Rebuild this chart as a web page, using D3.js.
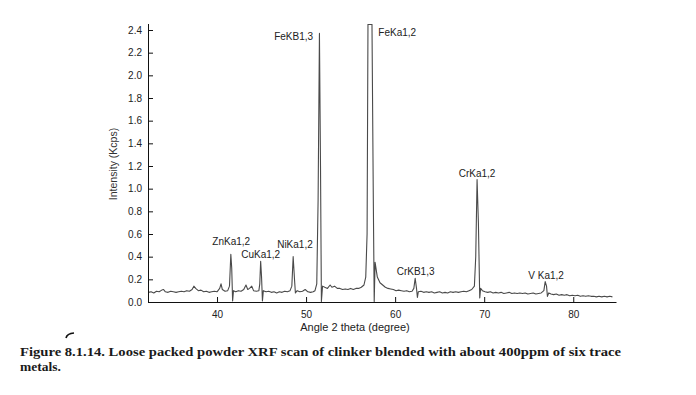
<!DOCTYPE html>
<html>
<head>
<meta charset="utf-8">
<script src="https://cdn.jsdelivr.net/npm/d3@7"></script>
<style>
body { margin: 0; background: #fff; }
</style>
</head>
<body>
<div id="viz"></div>
<script>
var width = 696;
var height = 395;

// spectrum: [angle 2 theta, intensity Kcps]
var spectrum = [
	[32.3,0.085],[32.6,0.09],[32.9,0.08],[33.2,0.095],[33.5,0.09],[33.8,0.105],[34.0,0.11],[34.2,0.09],
	[34.5,0.085],[34.8,0.095],[35.1,0.09],[35.4,0.085],[35.7,0.09],[36.0,0.095],[36.3,0.09],[36.6,0.10],
	[36.9,0.095],[37.2,0.11],[37.4,0.14],[37.6,0.12],[37.9,0.10],[38.2,0.105],[38.5,0.09],[38.8,0.095],
	[39.1,0.085],[39.4,0.09],[39.7,0.095],[40.0,0.09],[40.3,0.12],[40.45,0.16],[40.6,0.11],[40.9,0.095],
	[41.2,0.10],[41.4,0.14],[41.55,0.42],[41.65,0.30],[41.75,0.01],[41.85,0.10],[42.1,0.09],[42.4,0.10],
	[42.7,0.095],[43.0,0.11],[43.25,0.15],[43.45,0.11],[43.65,0.12],[43.9,0.14],[44.1,0.10],[44.4,0.095],
	[44.7,0.10],[44.8,0.16],[44.9,0.36],[45.0,0.22],[45.1,0.01],[45.2,0.10],[45.5,0.09],[45.8,0.095],
	[46.1,0.085],[46.4,0.09],[46.7,0.08],[47.0,0.09],[47.3,0.085],[47.6,0.095],[47.9,0.09],[48.2,0.10],
	[48.4,0.14],[48.55,0.40],[48.7,0.20],[48.8,0.08],[49.0,0.10],[49.3,0.09],[49.6,0.095],[49.9,0.11],
	[50.2,0.09],[50.5,0.085],[50.8,0.09],[51.0,0.10],[51.2,0.16],[51.35,0.9],[51.5,2.37],[51.62,1.2],
	[51.72,0.005],[51.85,0.14],[52.1,0.13],[52.4,0.12],[52.7,0.15],[52.9,0.13],[53.2,0.14],[53.5,0.12],
	[53.8,0.12],[54.1,0.11],[54.4,0.115],[54.7,0.11],[55.0,0.12],[55.3,0.11],[55.6,0.12],[55.9,0.12],
	[56.2,0.13],[56.5,0.15],[56.7,0.22],[56.85,0.6],[56.95,2.45],[57.4,2.45],[57.55,0.9],[57.65,0.005],
	[57.75,0.35],[58.0,0.22],[58.3,0.17],[58.6,0.15],[58.9,0.13],[59.2,0.12],[59.5,0.115],[59.8,0.11],
	[60.1,0.10],[60.4,0.105],[60.7,0.10],[61.0,0.095],[61.3,0.10],[61.6,0.09],[61.9,0.095],[62.1,0.12],
	[62.25,0.21],[62.4,0.12],[62.5,0.04],[62.6,0.09],[62.9,0.095],[63.2,0.085],[63.5,0.09],[63.8,0.085],
	[64.1,0.09],[64.4,0.08],[64.7,0.085],[65.0,0.09],[65.3,0.08],[65.6,0.085],[65.9,0.08],[66.2,0.09],
	[66.5,0.085],[66.8,0.09],[67.1,0.085],[67.4,0.09],[67.7,0.095],[68.0,0.09],[68.3,0.10],[68.6,0.11],
	[68.9,0.14],[69.05,0.4],[69.2,1.08],[69.35,0.7],[69.5,0.035],[69.6,0.12],[69.8,0.10],[70.1,0.09],
	[70.4,0.085],[70.7,0.09],[71.0,0.08],[71.3,0.085],[71.6,0.08],[71.9,0.085],[72.2,0.075],[72.5,0.08],
	[72.8,0.085],[73.1,0.075],[73.4,0.08],[73.7,0.075],[74.0,0.08],[74.3,0.075],[74.6,0.08],[74.9,0.07],
	[75.2,0.075],[75.5,0.08],[75.8,0.07],[76.1,0.075],[76.4,0.08],[76.7,0.10],[76.85,0.18],[77.0,0.14],
	[77.1,0.05],[77.25,0.08],[77.5,0.07],[77.8,0.065],[78.1,0.07],[78.4,0.06],[78.7,0.065],[79.0,0.06],
	[79.3,0.065],[79.6,0.055],[79.9,0.06],[80.2,0.055],[80.5,0.06],[80.8,0.05],[81.1,0.055],[81.4,0.05],
	[81.7,0.055],[82.0,0.05],[82.3,0.05],[82.6,0.045],[82.9,0.05],[83.2,0.045],[83.5,0.05],[83.8,0.045],
	[84.1,0.05],[84.4,0.045]
];

// peak labels: name, angle, intensity where the label sits
var peakNames = ["ZnKa1,2","CuKa1,2","NiKa1,2","FeKB1,3","FeKa1,2","CrKB1,3","CrKa1,2","V Ka1,2"];
var peakAngles = [41.6, 44.9, 48.75, 51.35, 57.55, 62.3, 69.2, 76.95];
var peakLevels = [0.50, 0.39, 0.475, 2.31, 2.35, 0.24, 1.105, 0.20];
var peakAnchor = ["middle","middle","middle","end","start","middle","middle","middle"];

var xTicks = [40, 50, 60, 70, 80];
var yTicks = [0.0, 0.2, 0.4, 0.6, 0.8, 1.0, 1.2, 1.4, 1.6, 1.8, 2.0, 2.2, 2.4];

var canvas = d3.select('#viz')
	.append('svg')
	.attr("width", width)
	.attr("height", height);

var xScale = d3.scaleLinear()
	.domain([32.25, 84.8])
	.range([148, 616]);

var yScale = d3.scaleLinear()
	.domain([0, 2.4])
	.range([302, 30]);

var font = "'Liberation Sans', Arial, sans-serif";

// clip so the FeKa peak is cut at the top of the plot
canvas.append("clipPath").attr("id", "plotclip")
	.append("rect")
	.attr("x", 148).attr("y", 24)
	.attr("width", 470).attr("height", 280);

var line = d3.line()
	.x(function(d){return xScale(d[0]);})
	.y(function(d){return yScale(d[1]);});

canvas.append("path")
	.datum(spectrum)
	.attr("clip-path", "url(#plotclip)")
	.attr("d", line)
	.attr("fill", "none")
	.attr("stroke", "#4a4a4a")
	.attr("stroke-width", 1.1)
	.attr("stroke-linejoin", "round");

var xAxis = d3.axisBottom()
	.scale(xScale)
	.tickValues(xTicks)
	.tickSizeInner(-5)
	.tickSizeOuter(0)
	.tickPadding(9);

var yAxis = d3.axisLeft()
	.scale(yScale)
	.tickValues(yTicks)
	.tickFormat(d3.format(".1f"))
	.tickSizeInner(-5)
	.tickSizeOuter(0)
	.tickPadding(6);

var gx = canvas.append("g")
	.attr("transform", "translate(0," + yScale(0) + ")")
	.call(xAxis);

var gy = canvas.append("g")
	.attr("transform", "translate(148,0)")
	.call(yAxis);

gy.select(".domain").attr("d", "M0.5,24V" + yScale(0));

[gx, gy].forEach(function(g){
	g.selectAll("text")
		.attr("font-family", font)
		.attr("font-size", 10)
		.attr("fill", "#222");
	g.selectAll("line").attr("stroke", "#111");
	g.select(".domain").attr("stroke", "#111");
});

canvas.append("g")
	.selectAll("text")
	.data(peakNames)
	.enter()
		.append("text")
		.attr("x", function(d, i){return xScale(peakAngles[i]) + (peakAnchor[i] == "start" ? 5 : peakAnchor[i] == "end" ? -5 : 0);})
		.attr("y", function(d, i){return yScale(peakLevels[i]);})
		.attr("text-anchor", function(d, i){return peakAnchor[i];})
		.attr("font-family", font)
		.attr("font-size", 10)
		.attr("fill", "#222")
		.text(function(d){return d;});

canvas.append("text")
	.attr("transform", "translate(117,164) rotate(-90)")
	.attr("text-anchor", "middle")
	.attr("font-family", font)
	.attr("font-size", 10.5)
	.attr("fill", "#333")
	.text("Intensity (Kcps)");

canvas.append("text")
	.attr("x", 355)
	.attr("y", 331)
	.attr("text-anchor", "middle")
	.attr("font-family", font)
	.attr("font-size", 11)
	.attr("fill", "#222")
	.text("Angle 2 theta (degree)");

// small pen mark left of the caption
canvas.append("path")
	.attr("d", "M66,338 Q67,333.5 74,333")
	.attr("fill", "none")
	.attr("stroke", "#111")
	.attr("stroke-width", 1.6);

canvas.append("text")
	.attr("x", 20)
	.attr("y", 356)
	.attr("font-family", "'Liberation Serif', 'DejaVu Serif', serif")
	.attr("font-size", 13.5)
	.attr("font-weight", "bold")
	.attr("fill", "#1a1a1a")
	.attr("textLength", 601)
	.attr("lengthAdjust", "spacingAndGlyphs")
	.text("Figure 8.1.14. Loose packed powder XRF scan of clinker blended with about 400ppm of six trace");

canvas.append("text")
	.attr("x", 20)
	.attr("y", 371)
	.attr("font-family", "'Liberation Serif', 'DejaVu Serif', serif")
	.attr("font-size", 13.5)
	.attr("font-weight", "bold")
	.attr("fill", "#1a1a1a")
	.text("metals.");
</script>
</body>
</html>
